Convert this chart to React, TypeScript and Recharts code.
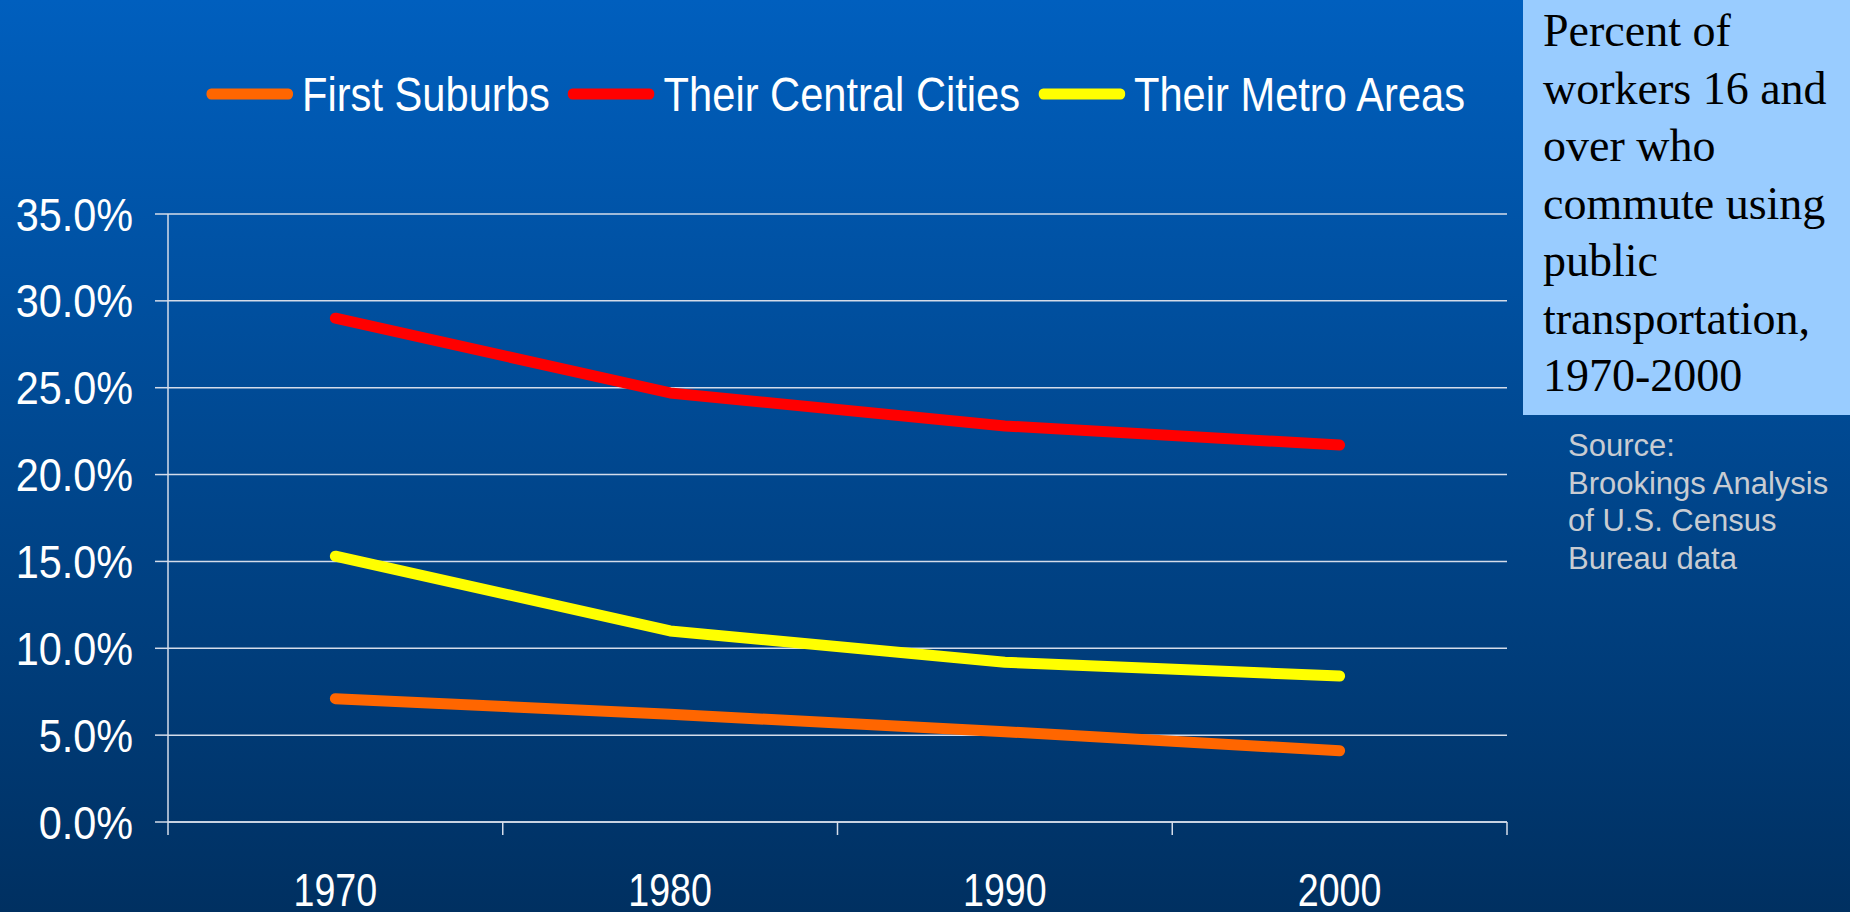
import React from "react";
import { LineChart, Line, XAxis, YAxis, CartesianGrid, Legend } from "recharts";

const years = [1970, 1980, 1990, 2000];
const firstSuburbs = [7.1, 6.2, 5.2, 4.1];
const centralCities = [29.0, 24.7, 22.8, 21.7];
const metroAreas = [15.3, 11.0, 9.2, 8.4];
const yTicks = [0, 5, 10, 15, 20, 25, 30, 35];
const xTicks = [1965, 1970, 1975, 1980, 1985, 1990, 1995, 2000, 2005];
const titleLines = [
  "Percent of",
  "workers 16 and",
  "over who",
  "commute using",
  "public",
  "transportation,",
  "1970-2000",
];
const sourceLines = ["Source:", "Brookings Analysis", "of U.S. Census", "Bureau data"];

const data = years.map((y, i) => ({
  year: y,
  first: firstSuburbs[i],
  central: centralCities[i],
  metro: metroAreas[i],
}));

const GRID = "#d4dcea";
const SANS = "'Liberation Sans', Arial, sans-serif";
const SQUEEZE = 0.85;

const XTick = (props: any) => {
  const { x, y, payload } = props;
  const v = payload.value as number;
  const axisY = y - 13;
  if (v % 10 === 5) {
    return <line x1={x} x2={x} y1={axisY} y2={axisY + 13} stroke={GRID} strokeWidth={1.5} />;
  }
  return (
    <text
      transform={`translate(${x},${axisY + 84}) scale(0.8,1)`}
      textAnchor="middle"
      fill="#ffffff"
      fontSize={47}
      fontFamily={SANS}
    >
      {v}
    </text>
  );
};

const YTick = (props: any) => {
  const { x, y, payload } = props;
  const v = payload.value as number;
  return (
    <text
      transform={`translate(${x},${y}) scale(0.9,1)`}
      textAnchor="end"
      dy="0.36em"
      fill="#ffffff"
      fontSize={46}
      fontFamily={SANS}
    >
      {v.toFixed(1) + "%"}
    </text>
  );
};

const LegendContent = (props: any) => {
  const payload = props.payload || [];
  return (
    <div
      style={{
        display: "flex",
        alignItems: "center",
        height: 50,
        transform: `scaleX(${SQUEEZE})`,
        transformOrigin: "left center",
      }}
    >
      {payload.map((p: any, i: number) => (
        <div key={i} style={{ display: "flex", alignItems: "center", marginRight: 21 }}>
          <svg width={103} height={12} style={{ display: "block" }}>
            <line x1={6} x2={97} y1={6} y2={6} stroke={p.color} strokeWidth={11} strokeLinecap="round" />
          </svg>
          <span
            style={{
              marginLeft: 10,
              color: "#ffffff",
              fontFamily: SANS,
              fontSize: 49,
              lineHeight: "50px",
              whiteSpace: "nowrap",
            }}
          >
            {p.value}
          </span>
        </div>
      ))}
    </div>
  );
};

export default function App() {
  return (
    <div
      style={{
        position: "fixed",
        left: 0,
        top: 0,
        width: 1850,
        height: 912,
        overflow: "hidden",
        background: "linear-gradient(to bottom, #005fbe 0%, #003061 100%)",
      }}
    >
      <LineChart
        width={1850}
        height={912}
        data={data}
        margin={{ top: 214, right: 343, left: 18, bottom: 0 }}
      >
        <CartesianGrid horizontal={true} vertical={false} stroke={GRID} strokeWidth={1.5} />
        <XAxis
          dataKey="year"
          type="number"
          domain={[1965, 2005]}
          ticks={xTicks}
          interval={0}
          height={90}
          tickLine={false}
          tickSize={13}
          tickMargin={0}
          axisLine={{ stroke: GRID, strokeWidth: 1.5 }}
          tick={<XTick />}
        />
        <YAxis
          type="number"
          domain={[0, 35]}
          ticks={yTicks}
          interval={0}
          width={150}
          tickSize={13}
          tickMargin={22}
          tick={<YTick />}
          tickLine={{ stroke: GRID, strokeWidth: 1.5 }}
          axisLine={{ stroke: GRID, strokeWidth: 1.5 }}
        />
        <Legend
          layout="horizontal"
          verticalAlign="middle"
          align="center"
          content={<LegendContent />}
          wrapperStyle={{ top: 69, left: 206, width: "auto", height: 50 }}
        />
        <Line
          name="First Suburbs"
          dataKey="first"
          stroke="#ff6600"
          strokeWidth={11}
          strokeLinecap="round"
          strokeLinejoin="round"
          dot={false}
          activeDot={false}
          isAnimationActive={false}
        />
        <Line
          name="Their Central Cities"
          dataKey="central"
          stroke="#ff0000"
          strokeWidth={11}
          strokeLinecap="round"
          strokeLinejoin="round"
          dot={false}
          activeDot={false}
          isAnimationActive={false}
        />
        <Line
          name="Their Metro Areas"
          dataKey="metro"
          stroke="#ffff00"
          strokeWidth={11}
          strokeLinecap="round"
          strokeLinejoin="round"
          dot={false}
          activeDot={false}
          isAnimationActive={false}
        />
      </LineChart>
      <div
        style={{
          position: "absolute",
          left: 1523,
          top: 0,
          width: 327,
          height: 415,
          background: "#99ccff",
          boxSizing: "border-box",
          paddingLeft: 20,
          paddingTop: 2,
          fontFamily: "'Liberation Serif', 'Times New Roman', serif",
          fontSize: 46,
          lineHeight: "57.5px",
          color: "#000000",
          whiteSpace: "nowrap",
        }}
      >
        {titleLines.map((t, i) => (
          <div key={i}>{t}</div>
        ))}
      </div>
      <div
        style={{
          position: "absolute",
          left: 1568,
          top: 427,
          fontFamily: SANS,
          fontSize: 31,
          lineHeight: "37.7px",
          color: "#c8ccd2",
          whiteSpace: "nowrap",
        }}
      >
        {sourceLines.map((t, i) => (
          <div key={i}>{t}</div>
        ))}
      </div>
    </div>
  );
}
